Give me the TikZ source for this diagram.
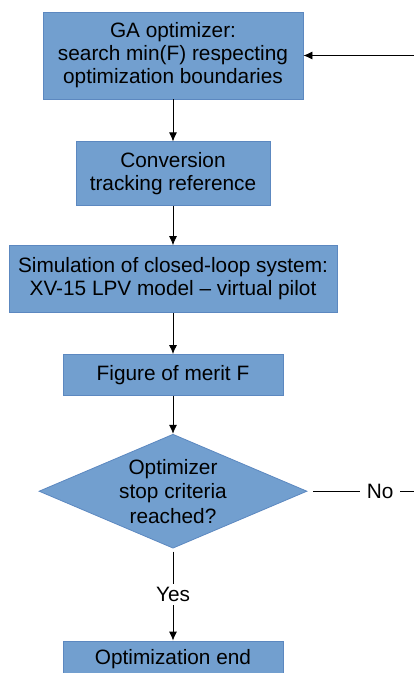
\documentclass[tikz,border=0pt]{standalone}
\usepackage{fontspec}
\setmainfont{Liberation Sans}
\usetikzlibrary{arrows.meta,positioning,shapes.geometric}
\definecolor{boxblue}{HTML}{729FCF}
\definecolor{boxline}{HTML}{5C88C0}

\begin{document}
\begin{tikzpicture}[>={Latex[length=9pt,width=8pt]}, node distance=41pt,
  box/.style={draw=boxline, fill=boxblue, align=center, inner sep=0pt,
              font=\fontsize{20.8}{23}\selectfont},
  test/.style={diamond, aspect=2.35, draw=boxline, fill=boxblue, align=center,
               inner sep=-2pt, minimum width=268pt, minimum height=114pt,
               font=\fontsize{20.8}{24.5}\selectfont},
  lbl/.style={fill=white, inner xsep=7pt, font=\fontsize{20.8}{23}\selectfont},
  every path/.style={line width=0.8pt}]
\useasboundingbox (0,0) rectangle (414pt,-673pt);
\node[box, minimum width=260pt, minimum height=87pt] (ga) at (173pt,-55.5pt)
  {GA optimizer:\\ search min(F) respecting\\ optimization boundaries};
\node[box, below=42pt of ga, minimum width=194pt, minimum height=64pt] (conv)
  {Conversion\\ tracking reference};
\node[box, below=39pt of conv, minimum width=328pt, minimum height=67pt] (sim)
  {Simulation of closed-loop system:\\ XV-15 LPV model -- virtual pilot};
\node[box, below=41pt of sim, minimum width=220pt, minimum height=41pt] (merit)
  {Figure of merit F};
\node[test, below=38pt of merit] (stop) {Optimizer\\ stop criteria\\ reached?};
\node[box, below=92pt of stop, minimum width=220pt, minimum height=37pt] (fin)
  {Optimization end};
\coordinate (back) at (453pt,-492pt);
\draw[->] (ga) -- (conv);
\draw[->] (conv) -- (sim);
\draw[->] (sim) -- (merit);
\draw[->] (merit) -- (stop);
\draw[->, shorten <=3pt] (stop) -- node[lbl] {Yes} (fin);
\draw[->, shorten <=6pt] (stop.east) -- node[lbl] {No} (stop.east -| back) |- (ga.east);
\end{tikzpicture}
\end{document}
